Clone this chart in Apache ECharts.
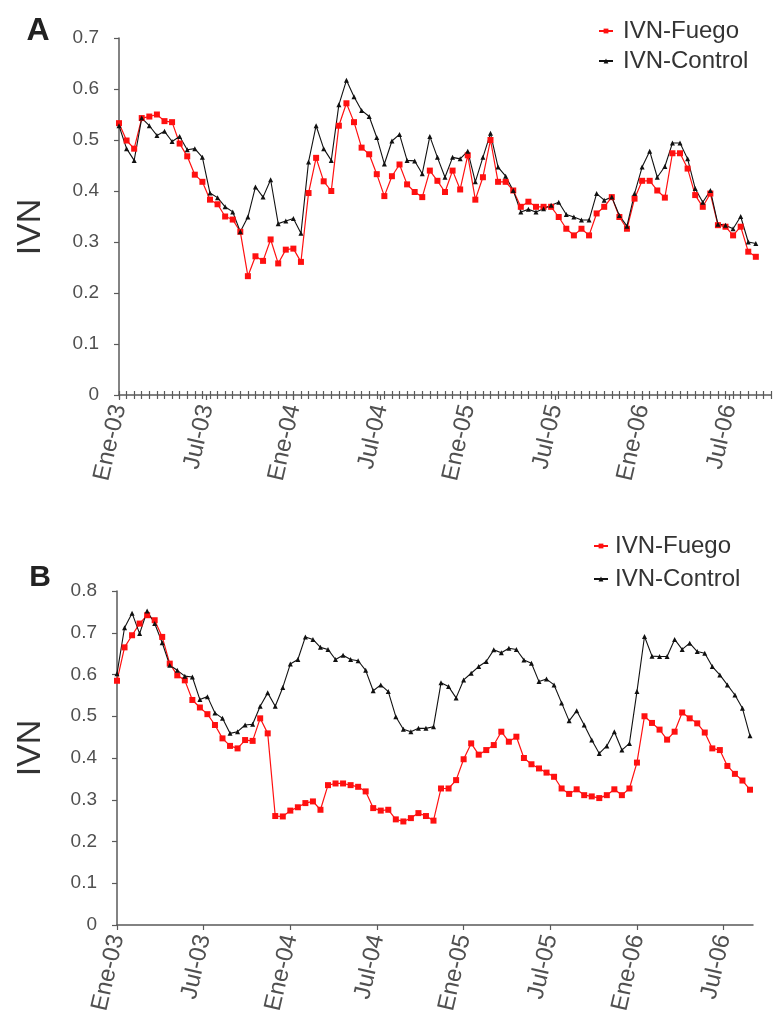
<!DOCTYPE html>
<html>
<head>
<meta charset="utf-8">
<script src="https://cdn.jsdelivr.net/npm/echarts@6/dist/echarts.min.js"></script>
<style>
html,body{margin:0;padding:0;background:#ffffff;}
#chart{width:774px;height:1018px;}
</style>
</head>
<body>
<div id="chart"></div>
<script>
// 16-day composites, Jan 2003 - Aug 2006 (year-dayOfYear)
const composites = [
 '2003-001','2003-017','2003-033','2003-049','2003-065','2003-081','2003-097','2003-113','2003-129','2003-145','2003-161','2003-177','2003-193','2003-209','2003-225','2003-241','2003-257','2003-273','2003-289','2003-305','2003-321','2003-337','2003-353',
 '2004-001','2004-017','2004-033','2004-049','2004-065','2004-081','2004-097','2004-113','2004-129','2004-145','2004-161','2004-177','2004-193','2004-209','2004-225','2004-241','2004-257','2004-273','2004-289','2004-305','2004-321','2004-337','2004-353',
 '2005-001','2005-017','2005-033','2005-049','2005-065','2005-081','2005-097','2005-113','2005-129','2005-145','2005-161','2005-177','2005-193','2005-209','2005-225','2005-241','2005-257','2005-273','2005-289','2005-305','2005-321','2005-337','2005-353',
 '2006-001','2006-017','2006-033','2006-049','2006-065','2006-081','2006-097','2006-113','2006-129','2006-145','2006-161','2006-177','2006-193','2006-209','2006-225','2006-241'
];
const tickLabels = ['Ene-03','Jul-03','Ene-04','Jul-04','Ene-05','Jul-05','Ene-06','Jul-06'];
const seriesNames = ['IVN-Fuego','IVN-Control'];

// Panel A
const fuegoA = [0.533,0.499,0.483,0.543,0.546,0.550,0.537,0.535,0.493,0.468,0.432,0.418,0.383,0.374,0.350,0.344,0.320,0.233,0.272,0.263,0.305,0.258,0.285,0.287,0.261,0.396,0.465,0.419,0.400,0.528,0.572,0.535,0.485,0.472,0.433,0.390,0.429,0.452,0.413,0.398,0.388,0.440,0.420,0.398,0.440,0.403,0.470,0.383,0.427,0.500,0.418,0.418,0.401,0.369,0.379,0.369,0.369,0.369,0.349,0.326,0.313,0.326,0.313,0.356,0.369,0.388,0.349,0.326,0.385,0.420,0.420,0.401,0.387,0.474,0.474,0.444,0.392,0.369,0.395,0.333,0.330,0.313,0.330,0.281,0.271];
const controlA = [0.528,0.483,0.460,0.543,0.528,0.509,0.517,0.497,0.507,0.481,0.483,0.466,0.396,0.387,0.369,0.359,0.320,0.349,0.408,0.388,0.422,0.336,0.341,0.346,0.317,0.457,0.528,0.483,0.460,0.569,0.617,0.585,0.558,0.546,0.505,0.453,0.498,0.511,0.460,0.459,0.434,0.507,0.466,0.427,0.466,0.463,0.478,0.418,0.466,0.513,0.447,0.429,0.401,0.359,0.364,0.359,0.365,0.372,0.378,0.354,0.349,0.343,0.343,0.395,0.382,0.388,0.352,0.331,0.395,0.447,0.478,0.427,0.448,0.494,0.494,0.463,0.405,0.378,0.401,0.335,0.333,0.326,0.350,0.300,0.297];

// Panel B
const fuegoB = [0.585,0.665,0.694,0.722,0.742,0.730,0.690,0.626,0.598,0.586,0.539,0.521,0.505,0.479,0.447,0.429,0.423,0.443,0.441,0.495,0.459,0.261,0.260,0.274,0.282,0.292,0.296,0.276,0.335,0.339,0.339,0.335,0.331,0.320,0.280,0.274,0.276,0.253,0.248,0.256,0.268,0.261,0.250,0.327,0.327,0.347,0.397,0.435,0.408,0.419,0.431,0.463,0.439,0.451,0.400,0.385,0.375,0.365,0.355,0.327,0.314,0.325,0.311,0.308,0.304,0.311,0.325,0.311,0.327,0.389,0.500,0.484,0.468,0.444,0.463,0.509,0.495,0.483,0.461,0.423,0.419,0.381,0.362,0.346,0.324];
const controlB = [0.602,0.712,0.747,0.698,0.752,0.722,0.676,0.622,0.610,0.596,0.594,0.540,0.547,0.508,0.495,0.459,0.463,0.479,0.481,0.524,0.556,0.524,0.569,0.625,0.636,0.690,0.684,0.665,0.660,0.636,0.646,0.636,0.633,0.610,0.561,0.575,0.559,0.499,0.469,0.463,0.471,0.471,0.475,0.580,0.571,0.544,0.587,0.603,0.619,0.631,0.659,0.652,0.663,0.660,0.635,0.627,0.583,0.589,0.575,0.532,0.489,0.513,0.479,0.443,0.411,0.429,0.463,0.419,0.435,0.559,0.691,0.644,0.643,0.643,0.684,0.660,0.675,0.655,0.651,0.619,0.599,0.575,0.551,0.519,0.453];

const FONT = "'Liberation Sans', Arial, sans-serif";
const HALF_YEAR = 11.5; // composites per half year
const labelPos = tickLabels.map((_, i) => i * HALF_YEAR);
const AXIS_COLOR = '#5a5a5a';
const LABEL_COLOR = '#505050';

function toPoints(arr) { return arr.map((v, i) => [i, v]); }

function mainX(gridIndex, max, showTicks) {
  return {
    type: 'value', gridIndex: gridIndex, position: 'bottom', min: 0, max: max, interval: HALF_YEAR,
    axisLine: { show: true, onZero: false, lineStyle: { color: AXIS_COLOR, width: 1.5 } },
    axisTick: { show: showTicks, customValues: labelPos, length: 5, lineStyle: { color: AXIS_COLOR, width: 1.2 } },
    axisLabel: {
      customValues: labelPos, rotate: 77, margin: 10, fontSize: 24, color: LABEL_COLOR, fontFamily: FONT,
      formatter: function (v) {
        const k = Math.round(v / HALF_YEAR);
        return Math.abs(v - k * HALF_YEAR) < 1e-6 && tickLabels[k] ? tickLabels[k] : '';
      }
    },
    splitLine: { show: false }
  };
}
function pointTicks(gridIndex, max, inside) {
  return {
    type: 'value', gridIndex: gridIndex, position: 'bottom', min: 0, max: max, interval: 1,
    axisLine: { show: false, onZero: false },
    axisTick: { show: true, inside: inside, length: 4, lineStyle: { color: AXIS_COLOR, width: 1.2 } },
    axisLabel: { show: false },
    splitLine: { show: false }
  };
}
function yAxis(gridIndex, max) {
  return {
    type: 'value', gridIndex: gridIndex, min: 0, max: max, interval: 0.1,
    axisLine: { show: true, lineStyle: { color: AXIS_COLOR, width: 1.5 } },
    axisTick: { show: true, length: 5, lineStyle: { color: AXIS_COLOR, width: 1.2 } },
    axisLabel: { fontSize: 19, color: LABEL_COLOR, margin: 20, fontFamily: FONT },
    splitLine: { show: false }
  };
}
function fuegoSeries(xi, yi, data) {
  return { name: seriesNames[0], type: 'line', xAxisIndex: xi, yAxisIndex: yi, data: toPoints(data),
    symbol: 'rect', symbolSize: 6, showSymbol: true,
    lineStyle: { color: '#ff1010', width: 1.2 }, itemStyle: { color: '#ff1010' } };
}
function controlSeries(xi, yi, data) {
  return { name: seriesNames[1], type: 'line', xAxisIndex: xi, yAxisIndex: yi, data: toPoints(data),
    symbol: 'triangle', symbolSize: 5, showSymbol: true,
    lineStyle: { color: '#111111', width: 1.1 }, itemStyle: { color: '#111111' } };
}
function legend(left, top, gap, textPad) {
  return {
    data: seriesNames, orient: 'vertical', left: left, top: top, itemWidth: 14, itemHeight: 6, itemGap: gap,
    selectedMode: false,
    textStyle: { fontSize: 24, lineHeight: 24, color: '#333333', fontFamily: FONT, padding: [0, 0, 0, textPad] }
  };
}

const chart = echarts.init(document.getElementById('chart'), null, { renderer: 'canvas' });
const option = {
  animation: false,
  backgroundColor: '#ffffff',
  textStyle: { fontFamily: FONT },
  grid: [
    { left: 119, top: 38, width: 652, height: 357 },
    { left: 117, top: 591, width: 636, height: 334 }
  ],
  xAxis: [
    mainX(0, 86, true),
    pointTicks(0, 86, true),
    pointTicks(0, 86, false),
    mainX(1, 84.4, true)
  ],
  yAxis: [ yAxis(0, 0.7), yAxis(1, 0.8) ],
  legend: [ legend(593, 14, 6, 5), legend(588, 529, 9, 2) ],
  series: [
    fuegoSeries(0, 0, fuegoA),
    controlSeries(0, 0, controlA),
    fuegoSeries(3, 1, fuegoB),
    controlSeries(3, 1, controlB)
  ],
  graphic: [
    { type: 'text', x: 38, y: 31, style: { text: 'A', fontSize: 32, fontWeight: 'bold', fontFamily: FONT, fill: '#222222', align: 'center', verticalAlign: 'middle', textAlign: 'center', textVerticalAlign: 'middle' } },
    { type: 'text', x: 40, y: 578, style: { text: 'B', fontSize: 30, fontWeight: 'bold', fontFamily: FONT, fill: '#222222', align: 'center', verticalAlign: 'middle', textAlign: 'center', textVerticalAlign: 'middle' } },
    { type: 'text', x: 31, y: 227, rotation: Math.PI / 2, style: { text: 'IVN', fontSize: 34, fontFamily: FONT, fill: '#333333', align: 'center', verticalAlign: 'middle', textAlign: 'center', textVerticalAlign: 'middle' } },
    { type: 'text', x: 31, y: 748, rotation: Math.PI / 2, style: { text: 'IVN', fontSize: 34, fontFamily: FONT, fill: '#333333', align: 'center', verticalAlign: 'middle', textAlign: 'center', textVerticalAlign: 'middle' } }
  ]
};
chart.setOption(option);
</script>
</body>
</html>
